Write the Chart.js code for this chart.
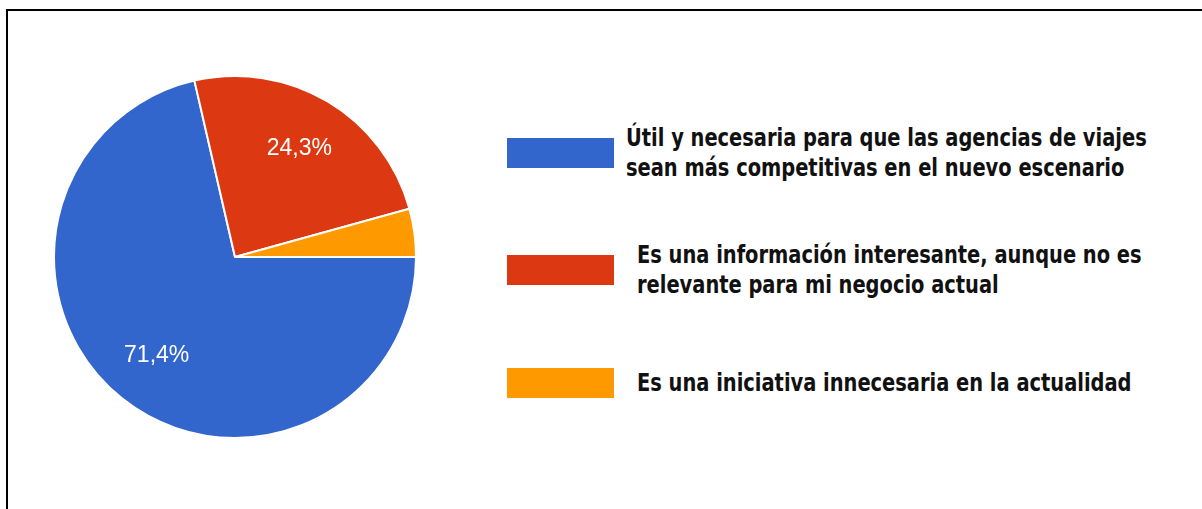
<!DOCTYPE html>
<html>
<head>
<meta charset="utf-8">
<script src="https://cdn.jsdelivr.net/npm/chart.js@4.4.1/dist/chart.umd.min.js"></script>
<style>
  html, body { margin: 0; padding: 0; background: #fff; }
  body { width: 1202px; height: 509px; position: relative; overflow: hidden; }
  #frame { position: absolute; left: 6px; top: 9px; width: 1300px; height: 600px;
           border-top: 2px solid #000; border-left: 2px solid #000; }
  #wrap { position: absolute; left: 53px; top: 75px; width: 364px; height: 364px; }
  #legend { position: absolute; left: 507px; top: 0; }
  .item { position: absolute; left: 0; height: 60px; display: flex; align-items: center; white-space: nowrap; }
  .box { width: 107px; height: 30px; flex: none; }
  .txt { font-family: "DejaVu Sans Condensed", sans-serif; font-weight: bold;
         font-size: 24px; line-height: 30px; color: #111; transform: scaleX(0.9); transform-origin: left center; }
</style>
</head>
<body>
<div id="frame"></div>
<div id="wrap"><canvas id="c"></canvas></div>
<div id="legend"></div>
<script>
const categories = [
  ["Útil y necesaria para que las agencias de viajes", "sean más competitivas en el nuevo escenario"],
  ["Es una información interesante, aunque no es", "relevante para mi negocio actual"],
  ["Es una iniciativa innecesaria en la actualidad"]
];
const values = [71.4, 24.3, 4.3];
const colors = ["#3366CC", "#DC3912", "#FF9900"];
const valueLabels = ["71,4%", "24,3%", "4,3%"];

const labelPlugin = {
  id: 'sliceLabels',
  afterDatasetsDraw(chart) {
    const ctx = chart.ctx;
    const meta = chart.getDatasetMeta(0);
    ctx.save();
    ctx.font = '23px "Liberation Sans", Arial, sans-serif';
    ctx.fillStyle = '#fff';
    ctx.textAlign = 'center';
    ctx.textBaseline = 'middle';
    meta.data.forEach((arc, i) => {
      if (values[i] < 5) return;
      const p = arc.getProps(['x', 'y', 'startAngle', 'endAngle', 'outerRadius'], true);
      const mid = (p.startAngle + p.endAngle) / 2;
      const d = p.outerRadius * 0.695;
      ctx.fillText(valueLabels[i], p.x + Math.cos(mid) * d, p.y + Math.sin(mid) * d);
    });
    ctx.restore();
  }
};

new Chart(document.getElementById('c'), {
  type: 'pie',
  data: {
    labels: categories.map(l => l.join(' ')),
    datasets: [{
      data: values,
      backgroundColor: colors,
      borderColor: '#fff',
      borderWidth: 2
    }]
  },
  options: {
    responsive: true,
    maintainAspectRatio: false,
    animation: false,
    rotation: 90,
    layout: { padding: 0 },
    plugins: { legend: { display: false }, tooltip: { enabled: false } }
  },
  plugins: [labelPlugin]
});

const legend = document.getElementById('legend');
const tops = [123, 240, 353];
const textOffsets = [12, 23, 23];
categories.forEach((lines, i) => {
  const item = document.createElement('div');
  item.className = 'item';
  item.style.top = tops[i] + 'px';
  const box = document.createElement('div');
  box.className = 'box';
  box.style.background = colors[i];
  const txt = document.createElement('div');
  txt.className = 'txt';
  txt.style.marginLeft = textOffsets[i] + 'px';
  txt.innerHTML = lines.map(s => s.replace(/&/g, '&amp;').replace(/</g, '&lt;')).join('<br>');
  item.appendChild(box);
  item.appendChild(txt);
  legend.appendChild(item);
});
</script>
</body>
</html>
